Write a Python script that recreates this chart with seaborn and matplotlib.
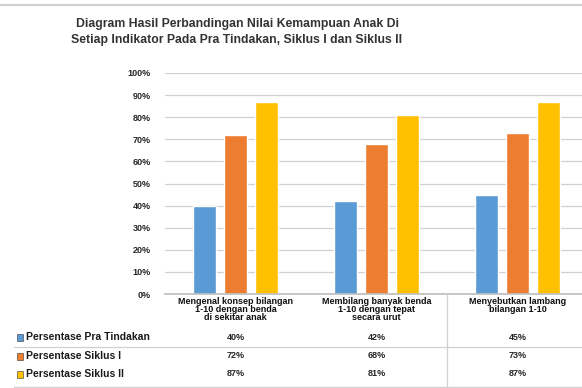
import matplotlib
matplotlib.use("Agg")
import matplotlib.pyplot as plt
import matplotlib.transforms as mtransforms
from matplotlib.patches import Rectangle
from matplotlib.lines import Line2D
import seaborn as sns
import pandas as pd

# ---- data ----
categories = [
    "Mengenal konsep bilangan\n1-10 dengan benda\ndi sekitar anak",
    "Membilang banyak benda\n1-10 dengan tepat\nsecara urut",
    "Menyebutkan lambang\nbilangan 1-10",
]
series = ["Persentase Pra Tindakan", "Persentase Siklus I", "Persentase Siklus II"]
pra_tindakan = [40, 42, 45]
siklus_1 = [72, 68, 73]
siklus_2 = [87, 81, 87]
yticks = [0, 10, 20, 30, 40, 50, 60, 70, 80, 90, 100]
title = ("Diagram Hasil Perbandingan Nilai Kemampuan Anak Di\n"
         "Setiap Indikator Pada Pra Tindakan, Siklus I dan Siklus II")

colors = ["#5B9BD5", "#ED7D31", "#FFC000"]

rows = []
for s, vals in zip(series, [pra_tindakan, siklus_1, siklus_2]):
    for c, v in zip(categories, vals):
        rows.append({"Indikator": c, "Seri": s, "Nilai": v})
df = pd.DataFrame(rows)

sns.set_theme(style="white")
plt.rcParams["font.family"] = ["Liberation Sans", "DejaVu Sans"]

W, H = 582, 388
fig = plt.figure(figsize=(W / 100, H / 100), dpi=100)
left, right, top, bottom = 165, 588, 73, 294
ax = fig.add_axes([left / W, 1 - bottom / H, (right - left) / W, (bottom - top) / H])

sns.barplot(data=df, x="Indikator", y="Nilai", hue="Seri", order=categories,
            hue_order=series, palette=colors, width=0.66, gap=0.25,
            ax=ax, legend=False, saturation=1, errorbar=None)

ax.set_xlim(-0.5, 2.5)
ax.set_ylim(0, 100)
ax.set_yticks(yticks)
ax.set_yticklabels([f"{t}%" for t in yticks], fontsize=6.5, color="#262626",
                   fontweight="bold")
ax.yaxis.grid(True, color="#d0d0d0", linewidth=0.9)
ax.set_axisbelow(True)
ax.set_xlabel("")
ax.set_ylabel("")
for sp in ["top", "right", "left"]:
    ax.spines[sp].set_visible(False)
ax.spines["bottom"].set_color("#bfbfbf")
ax.tick_params(axis="y", length=2, width=1.2, color="#333333", pad=8)
ax.tick_params(axis="x", length=0, pad=2)
ax.set_xticks(range(len(categories)))
ax.set_xticklabels(categories, fontsize=6.5, color="#111111", linespacing=0.85,
                   fontweight="bold")

# data table
trans = mtransforms.blended_transform_factory(ax.transData, ax.transAxes)
ah = bottom - top
row_y = [337, 356, 374]
for ry, vals, s, col in zip(row_y, [pra_tindakan, siklus_1, siklus_2], series, colors):
    ya = (bottom - ry) / ah
    for i, v in enumerate(vals):
        ax.text(i, ya, f"{v}%", transform=trans, ha="center", va="center",
                fontsize=6.5, color="#262626", fontweight="bold", clip_on=False)
    fig.text(26 / W, 1 - ry / H, s, ha="left", va="center", fontsize=7.5,
             color="#1a1a1a", fontweight="bold")
    fig.add_artist(Rectangle((17 / W, 1 - (ry + 4) / H), 6 / W, 7 / H,
                             transform=fig.transFigure, facecolor=col,
                             edgecolor="#333333", linewidth=0.4))

for yy in [347, 387]:
    fig.add_artist(Line2D([14 / W, 1], [1 - yy / H, 1 - yy / H],
                          transform=fig.transFigure, color="#d0d0d0", linewidth=0.9))
fig.add_artist(Line2D([447 / W, 447 / W], [1 - 295 / H, 1 - 388 / H],
                      transform=fig.transFigure, color="#d0d0d0", linewidth=0.9))
fig.add_artist(Line2D([0, 1], [1 - 5 / H, 1 - 5 / H],
                      transform=fig.transFigure, color="#d0d0d0", linewidth=1.5))

fig.text(237 / W, 1 - 32 / H, title, ha="center", va="center", fontsize=8.8,
         fontweight="bold", color="#333333", linespacing=1.5)

fig.savefig("out.png", dpi=100)
